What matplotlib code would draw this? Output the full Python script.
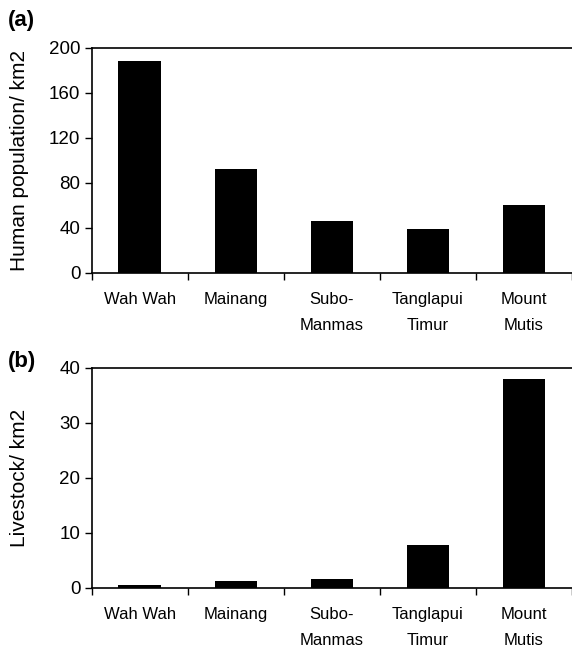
import numpy as np
import matplotlib
matplotlib.use('Agg')
from matplotlib import pyplot as plt

plt.rcParams['font.family'] = ['Liberation Sans', 'DejaVu Sans']

sites = ['Wah Wah', 'Mainang', 'Subo-\nManmas', 'Tanglapui\nTimur', 'Mount\nMutis']
human_pop = [188, 92.5, 46.5, 39.5, 60]
livestock = [0.5, 1.2, 1.6, 7.9, 38.0]

fig = plt.figure(figsize=(5.72, 6.49), dpi=100)
ax1 = fig.add_axes([0.16, 0.5794, 0.84, 0.3467])
ax2 = fig.add_axes([0.16, 0.094, 0.84, 0.339])

x = np.arange(len(sites))

def style(ax, vals, ymax, step, ylab):
    ax.bar(x, vals, width=0.44, color='black', zorder=2)
    ax.set_xlim(-0.5, 4.41)
    ax.set_ylim(0, ymax)
    ax.set_yticks(np.arange(0, ymax + 1, step))
    ax.set_xticks(x)
    ax.set_xticklabels(sites, fontsize=12, linespacing=1.9)
    ax.set_xticks(np.arange(-0.5, 4.6, 1), minor=True)
    ax.tick_params(axis='x', which='major', length=0, pad=14)
    ax.tick_params(axis='x', which='minor', length=5, width=1, direction='out')
    ax.tick_params(axis='y', length=5, width=1, direction='out', labelsize=13.5, pad=3)
    for s in ['left', 'bottom', 'top']:
        ax.spines[s].set_linewidth(1.2)
    ax.spines['right'].set_visible(False)
    ax.set_ylabel(ylab, fontsize=15)
    ax.yaxis.set_label_coords(-0.13, 0.5)

style(ax1, human_pop, 200, 40, 'Human population/ km2')
style(ax2, livestock, 40, 10, 'Livestock/ km2')

fig.text(0.014, 0.984, '(a)', fontsize=16, fontweight='bold', va='top')
fig.text(0.014, 0.459, '(b)', fontsize=16, fontweight='bold', va='top')

fig.savefig('out.png', dpi=100)
